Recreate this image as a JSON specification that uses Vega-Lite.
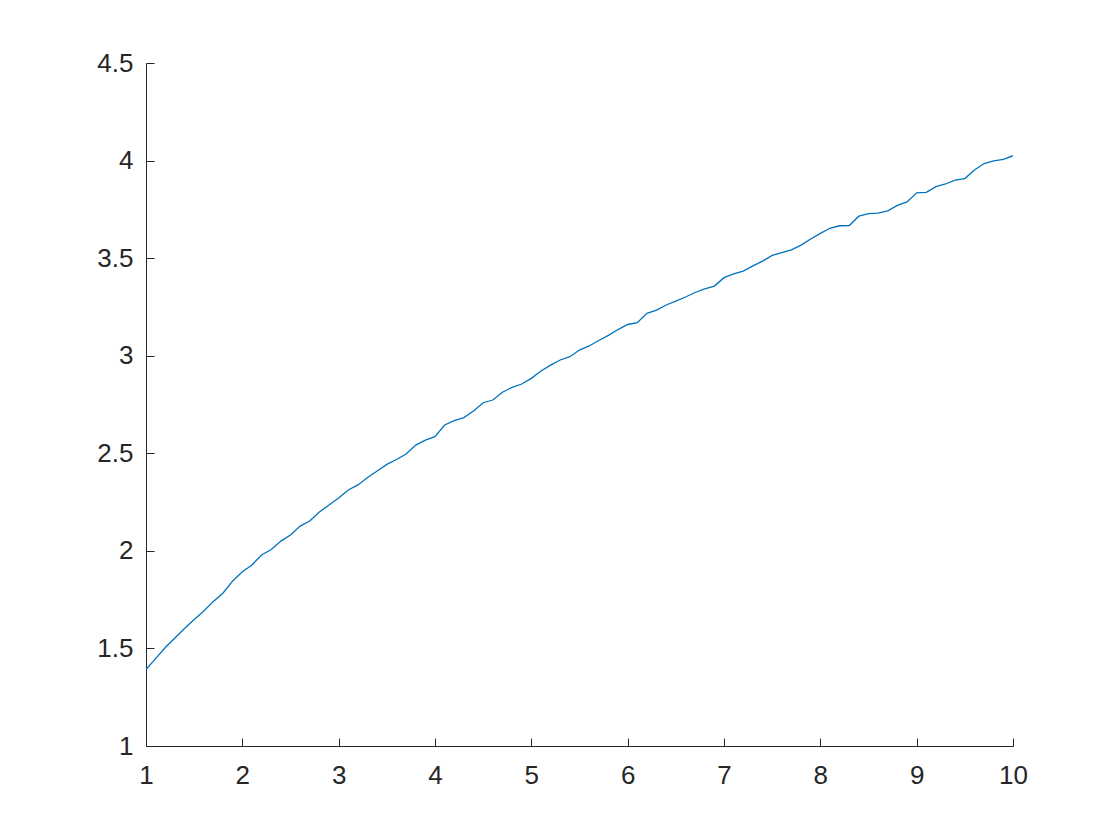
{
  "$schema": "https://vega.github.io/schema/vega-lite/v6.json",
  "width": 867,
  "height": 683,
  "autosize": {"type": "none"},
  "padding": {"left": 146, "top": 63, "right": 107, "bottom": 94},
  "background": "white",
  "config": {"view": {"stroke": null}},
  "data": {"values": [
    {"x": 1.0, "y": 1.392}, {"x": 1.1, "y": 1.448}, {"x": 1.2, "y": 1.505}, {"x": 1.3, "y": 1.553}, {"x": 1.4, "y": 1.602},
    {"x": 1.5, "y": 1.648}, {"x": 1.6, "y": 1.692}, {"x": 1.7, "y": 1.741}, {"x": 1.8, "y": 1.784}, {"x": 1.9, "y": 1.846},
    {"x": 2.0, "y": 1.893}, {"x": 2.1, "y": 1.928}, {"x": 2.2, "y": 1.979}, {"x": 2.3, "y": 2.007}, {"x": 2.4, "y": 2.05},
    {"x": 2.5, "y": 2.081}, {"x": 2.6, "y": 2.127}, {"x": 2.7, "y": 2.153}, {"x": 2.8, "y": 2.199}, {"x": 2.9, "y": 2.235},
    {"x": 3.0, "y": 2.271}, {"x": 3.1, "y": 2.312}, {"x": 3.2, "y": 2.338}, {"x": 3.3, "y": 2.376}, {"x": 3.4, "y": 2.409},
    {"x": 3.5, "y": 2.443}, {"x": 3.6, "y": 2.468}, {"x": 3.7, "y": 2.496}, {"x": 3.8, "y": 2.542}, {"x": 3.9, "y": 2.567},
    {"x": 4.0, "y": 2.585}, {"x": 4.1, "y": 2.645}, {"x": 4.2, "y": 2.667}, {"x": 4.3, "y": 2.683}, {"x": 4.4, "y": 2.717},
    {"x": 4.5, "y": 2.759}, {"x": 4.6, "y": 2.773}, {"x": 4.7, "y": 2.813}, {"x": 4.8, "y": 2.838}, {"x": 4.9, "y": 2.855},
    {"x": 5.0, "y": 2.884}, {"x": 5.1, "y": 2.922}, {"x": 5.2, "y": 2.952}, {"x": 5.3, "y": 2.978}, {"x": 5.4, "y": 2.995},
    {"x": 5.5, "y": 3.029}, {"x": 5.6, "y": 3.05}, {"x": 5.7, "y": 3.078}, {"x": 5.8, "y": 3.104}, {"x": 5.9, "y": 3.134},
    {"x": 6.0, "y": 3.16}, {"x": 6.1, "y": 3.169}, {"x": 6.2, "y": 3.217}, {"x": 6.3, "y": 3.234}, {"x": 6.4, "y": 3.26},
    {"x": 6.5, "y": 3.28}, {"x": 6.6, "y": 3.301}, {"x": 6.7, "y": 3.324}, {"x": 6.8, "y": 3.342}, {"x": 6.9, "y": 3.357},
    {"x": 7.0, "y": 3.4}, {"x": 7.1, "y": 3.419}, {"x": 7.2, "y": 3.434}, {"x": 7.3, "y": 3.46}, {"x": 7.4, "y": 3.485},
    {"x": 7.5, "y": 3.514}, {"x": 7.6, "y": 3.528}, {"x": 7.7, "y": 3.542}, {"x": 7.8, "y": 3.567}, {"x": 7.9, "y": 3.598},
    {"x": 8.0, "y": 3.627}, {"x": 8.1, "y": 3.653}, {"x": 8.2, "y": 3.666}, {"x": 8.3, "y": 3.667}, {"x": 8.4, "y": 3.715},
    {"x": 8.5, "y": 3.728}, {"x": 8.6, "y": 3.731}, {"x": 8.7, "y": 3.742}, {"x": 8.8, "y": 3.77}, {"x": 8.9, "y": 3.788},
    {"x": 9.0, "y": 3.835}, {"x": 9.1, "y": 3.837}, {"x": 9.2, "y": 3.866}, {"x": 9.3, "y": 3.88}, {"x": 9.4, "y": 3.9},
    {"x": 9.5, "y": 3.908}, {"x": 9.6, "y": 3.952}, {"x": 9.7, "y": 3.985}, {"x": 9.8, "y": 3.998}, {"x": 9.9, "y": 4.006},
    {"x": 10.0, "y": 4.025}
  ]},
  "mark": {"type": "line", "color": "#0072BD", "strokeWidth": 1.3, "clip": true},
  "encoding": {
    "x": {
      "field": "x", "type": "quantitative",
      "scale": {"domain": [1, 10], "nice": false, "zero": false},
      "axis": {
        "title": null, "grid": false, "values": [1, 2, 3, 4, 5, 6, 7, 8, 9, 10],
        "domainColor": "#262626", "domainWidth": 1, "tickColor": "#262626", "tickWidth": 1,
        "tickSize": -8, "labelPadding": 24, "labelFont": "Liberation Sans", "labelFontSize": 26,
        "labelColor": "#262626", "labelFlush": false, "labelOverlap": false
      }
    },
    "y": {
      "field": "y", "type": "quantitative",
      "scale": {"domain": [1, 4.5], "nice": false, "zero": false},
      "axis": {
        "title": null, "grid": false, "values": [1, 1.5, 2, 2.5, 3, 3.5, 4, 4.5], "format": ".1~f",
        "domainColor": "#262626", "domainWidth": 1, "tickColor": "#262626", "tickWidth": 1,
        "tickSize": -8, "labelPadding": 21, "labelFont": "Liberation Sans", "labelFontSize": 26,
        "labelColor": "#262626", "labelFlush": false, "labelOverlap": false
      }
    }
  }
}
